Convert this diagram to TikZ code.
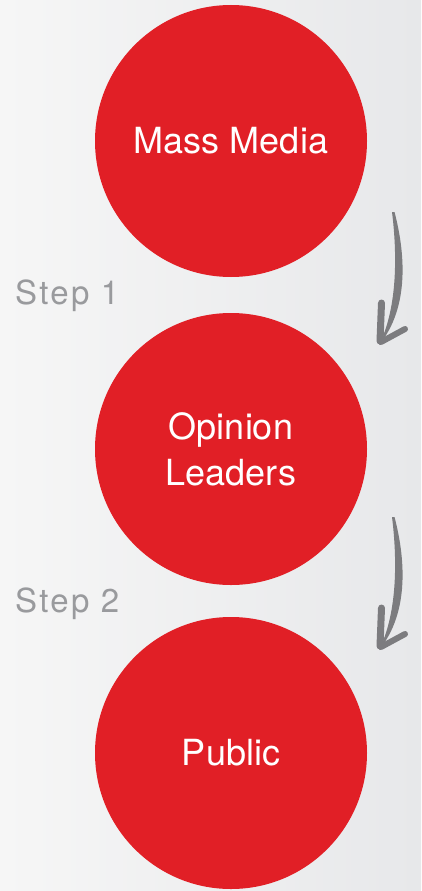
\documentclass[tikz,border=0pt]{standalone}
\usepackage{fontspec}
\setmainfont{TeX Gyre Heros}
\definecolor{mediared}{HTML}{E11F26}
\definecolor{steptext}{HTML}{999A9D}
\definecolor{arrowgray}{HTML}{7C7C7F}
\definecolor{bgleft}{HTML}{F6F6F6}
\definecolor{bgright}{HTML}{E7E8EA}
\newfontfamily\stepfont[LetterSpace=7]{TeX Gyre Heros}
\tikzset{
  stage/.style={circle, fill=mediared, text=white, minimum size=272pt,
    inner sep=0pt, align=center, font=\fontsize{36}{46}\selectfont},
  steplabel/.style={anchor=base west, text=steptext, inner sep=0pt,
    font=\stepfont\fontsize{33}{38}\selectfont},
  barb/.style={draw=arrowgray, line cap=round},
}
% hand drawn arrow, top end at #1
\newcommand{\brusharrow}[1]{%
  \begin{scope}[shift={(#1)}]
    \fill[arrowgray] (-1,0) .. controls (4,40) and (5,95) .. (-14,133)
      .. controls (17,95) and (12,40) .. (1.5,0) -- cycle;
    \draw[barb, line width=7pt] (-13,129) -- (-11.5,91);
    \draw[barb, line width=6pt] (-12,130) -- (12,117);
  \end{scope}}
\begin{document}
\begin{tikzpicture}[x=1pt, y=-1pt]
  \shade[left color=bgleft, right color=bgright] (0,0) rectangle (421,891);
  \useasboundingbox (0,0) rectangle (421,891);
  \draw
    (231,141) node[stage] (media){Mass Media}
    (231,449) node[stage] (leaders){Opinion\\Leaders}
    (231,753) node[stage] (public){Public};
  \draw
    (15,304) node[steplabel] (step1){Step 1}
    (15,612) node[steplabel] (step2){Step 2};
  \coordinate (arrow1) at (393,212);
  \coordinate (arrow2) at (393,517);
  \brusharrow{arrow1}
  \brusharrow{arrow2}
\end{tikzpicture}
\end{document}
